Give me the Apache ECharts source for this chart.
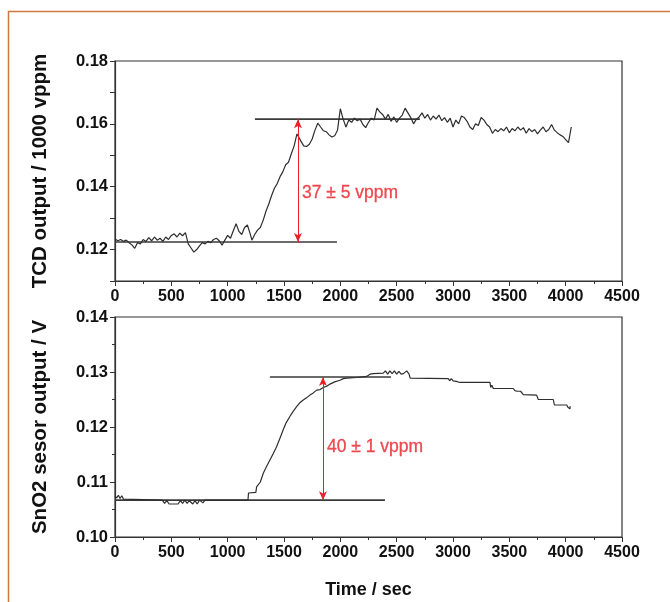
<!DOCTYPE html>
<html>
<head>
<meta charset="utf-8">
<script src="https://cdn.jsdelivr.net/npm/echarts@6/dist/echarts.min.js"></script>
<style>
html,body{margin:0;padding:0;background:#fff;}
#c{width:670px;height:602px;}
</style>
</head>
<body>
<div id="c"></div>
<script>
// ---- data (time in s) ----
var tcdData = [
[0,0.1234],[25,0.1228],[50,0.1232],[75,0.1226],[100,0.1230],[125,0.1222],[150,0.1215],[175,0.1204],
[200,0.1222],[225,0.1218],[250,0.1232],[275,0.1226],[300,0.1238],[325,0.1228],[350,0.1240],[375,0.1230],
[400,0.1236],[425,0.1226],[450,0.1240],[475,0.1232],[500,0.1245],[525,0.1250],[550,0.1240],[575,0.1252],
[600,0.1244],[625,0.1254],[650,0.1218],[675,0.1205],[700,0.1192],[725,0.1200],[750,0.1212],[775,0.1222],
[800,0.1218],[825,0.1226],[850,0.1222],[875,0.1232],[900,0.1236],[925,0.1228],[950,0.1214],[975,0.1230],
[1000,0.1245],[1025,0.1236],[1050,0.1260],[1075,0.1282],[1100,0.1258],[1125,0.1248],[1150,0.1270],[1175,0.1278],
[1200,0.1250],[1215,0.1230],[1240,0.1248],[1265,0.1262],[1290,0.1270],[1315,0.1293],[1340,0.1322],[1365,0.1345],
[1390,0.1372],[1415,0.1395],[1440,0.1410],[1465,0.1432],[1490,0.1448],[1515,0.1470],[1540,0.1478],[1565,0.1505],
[1590,0.1530],[1615,0.1568],[1630,0.1572],[1650,0.1545],[1675,0.1530],[1700,0.1528],[1725,0.1535],[1750,0.1552],
[1775,0.1580],[1800,0.1602],[1825,0.1590],[1850,0.1578],[1875,0.1575],[1900,0.1565],[1925,0.1558],[1950,0.1562],
[1975,0.1580],[2000,0.1648],[2025,0.1615],[2050,0.1590],[2075,0.1612],[2100,0.1605],[2125,0.1618],[2150,0.1610],
[2175,0.1615],[2200,0.1598],[2225,0.1588],[2250,0.1605],[2275,0.1618],[2300,0.1612],[2325,0.1650],[2350,0.1638],
[2375,0.1630],[2400,0.1615],[2425,0.1630],[2450,0.1608],[2475,0.1622],[2500,0.1605],[2525,0.1618],[2550,0.1628],
[2575,0.1650],[2600,0.1635],[2625,0.1620],[2650,0.1600],[2675,0.1615],[2700,0.1622],[2725,0.1635],[2750,0.1618],
[2775,0.1630],[2800,0.1612],[2825,0.1625],[2850,0.1615],[2875,0.1628],[2900,0.1610],[2925,0.1620],[2950,0.1605],
[2975,0.1618],[3000,0.1590],[3025,0.1612],[3050,0.1600],[3075,0.1625],[3100,0.1620],[3125,0.1608],[3150,0.1590],
[3175,0.1582],[3200,0.1600],[3225,0.1595],[3250,0.1620],[3275,0.1612],[3300,0.1598],[3325,0.1590],[3350,0.1570],
[3375,0.1582],[3400,0.1575],[3425,0.1585],[3450,0.1578],[3475,0.1590],[3500,0.1572],[3525,0.1585],[3550,0.1578],
[3575,0.1590],[3600,0.1580],[3625,0.1588],[3650,0.1570],[3675,0.1585],[3700,0.1575],[3725,0.1582],[3750,0.1568],
[3775,0.1580],[3800,0.1590],[3825,0.1575],[3850,0.1582],[3875,0.1598],[3900,0.1580],[3925,0.1572],[3950,0.1565],
[3975,0.1560],[4000,0.1550],[4025,0.1540],[4050,0.1590]
];
var snoData = [
[0,0.1075],[15,0.1071],[30,0.1076],[45,0.1070],[60,0.1075],[75,0.1069],[90,0.1067],[420,0.1067],
[440,0.1061],[460,0.1066],[480,0.1060],[560,0.1060],[580,0.1066],[600,0.1061],[620,0.1067],[640,0.1061],
[660,0.1066],[690,0.1060],[710,0.1066],[730,0.1060],[750,0.1067],[780,0.1062],[800,0.1067],[1180,0.1067],
[1185,0.1080],[1250,0.1081],[1257,0.1091],[1290,0.1100],[1316,0.1116],[1345,0.1128],[1375,0.1140],[1405,0.1152],
[1434,0.1164],[1465,0.1180],[1493,0.1195],[1520,0.1208],[1552,0.1219],[1580,0.1228],[1612,0.1237],[1640,0.1244],
[1671,0.1249],[1700,0.1253],[1730,0.1258],[1760,0.1262],[1790,0.1267],[1820,0.1268],[1849,0.1272],[1880,0.1274],
[1908,0.1278],[1950,0.1282],[1997,0.1285],[2026,0.1288],[2056,0.1289],[2150,0.1290],[2233,0.1292],[2263,0.1296],
[2292,0.1297],[2381,0.1298],[2400,0.1302],[2420,0.1296],[2440,0.1302],[2460,0.1297],[2480,0.1302],[2500,0.1296],
[2520,0.1301],[2540,0.1296],[2560,0.1297],[2589,0.1302],[2610,0.1296],[2620,0.1289],[2958,0.1288],[2970,0.1284],
[2985,0.1288],[3000,0.1284],[3015,0.1287],[3030,0.1283],[3062,0.1281],[3328,0.1281],[3335,0.1272],[3345,0.1276],
[3358,0.1270],[3535,0.1270],[3550,0.1266],[3560,0.1269],[3570,0.1265],[3580,0.1268],[3600,0.1265],[3624,0.1259],
[3742,0.1258],[3757,0.1250],[3890,0.1250],[3900,0.1240],[4010,0.1240],[4020,0.1236],[4038,0.1233],[4040,0.1238]
];
// reference lines
var tcdBase = [[0,0.1224],[1970,0.1224]];
var tcdTop = [[1242,0.1615],[2706,0.1615]];
var snoBase = [[0,0.1067],[2396,0.1067]];
var snoTop = [[1375,0.1291],[2450,0.1291]];
// arrows: [x, yFrom, yTo]
var tcdArrow = [1624, 0.1224, 0.1615];
var snoArrow = [1846, 0.1067, 0.1291];
// annotations
var tcdNote = {text:'37 ± 5 vppm', at:[1624, 0.1379]};
var snoNote = {text:'40 ± 1 vppm', at:[1846, 0.1164]};
// axis settings
var xTicks = {min:0, max:4500, interval:500};
var topY = {min:0.11, max:0.18, interval:0.01};
var botY = {min:0.10, max:0.14, interval:0.01};
var xTitle = 'Time / sec';
var topTitle = 'TCD output / 1000 vppm';
var botTitle = 'SnO2 sesor output / V';

var chart = echarts.init(document.getElementById('c'), null, {renderer:'canvas'});
var FONT = '"Liberation Sans", Arial, sans-serif';
var AX = '#333';
var RED = '#ea2027';

function xAxis(idx, name){
  return {
    type:'value', gridIndex:idx, min:xTicks.min, max:xTicks.max, interval:xTicks.interval,
    name:name, nameLocation:'middle', nameGap:44,
    nameTextStyle:{fontFamily:FONT, fontWeight:'bold', fontSize:18, color:'#111'},
    axisLine:{show:true, onZero:false, lineStyle:{color:AX, width:1.2}},
    axisTick:{show:true, inside:false, length:5, lineStyle:{color:AX}},
    minorTick:{show:true, splitNumber:2, length:3, lineStyle:{color:AX}},
    splitLine:{show:false},
    axisLabel:{fontFamily:FONT, fontWeight:'bold', fontSize:16, color:'#111', margin:8,
      formatter:function(v){return String(Math.round(v));}}
  };
}
function yAxis(idx, cfg, name, fmt){
  return {
    type:'value', gridIndex:idx, min:cfg.min, max:cfg.max, interval:cfg.interval,
    name:name, nameLocation:'middle', nameRotate:90, nameGap:64,
    nameTextStyle:{fontFamily:FONT, fontWeight:'bold', fontSize:20.5, color:'#111'},
    axisLine:{show:true, onZero:false, lineStyle:{color:AX, width:1.2}},
    axisTick:{show:true, inside:false, length:5, lineStyle:{color:AX}},
    minorTick:{show:idx===1, splitNumber:2, length:3, lineStyle:{color:AX}},
    splitLine:{show:false},
    axisLabel:{fontFamily:FONT, fontWeight:'bold', fontSize:16.5, color:'#111', margin:7, formatter:fmt}
  };
}
function refLine(idx, data){
  return {type:'line', xAxisIndex:idx, yAxisIndex:idx, data:data, symbol:'none', silent:true,
    lineStyle:{color:'#3a3a3a', width:1.6}, z:3};
}
function arrowSeries(idx, a){
  return {type:'line', xAxisIndex:idx, yAxisIndex:idx, data:[], silent:true,
    markLine:{silent:true, symbol:['arrow','arrow'], symbolSize:[6,9], animation:false,
      label:{show:false}, lineStyle:{color:RED, width:1, type:'solid'},
      data:[[{coord:[a[0],a[1]]},{coord:[a[0],a[2]]}]]}};
}
function noteSeries(idx, n){
  return {type:'scatter', xAxisIndex:idx, yAxisIndex:idx, data:[n.at], symbolSize:0, silent:true,
    label:{show:true, position:'right', distance:4, formatter:n.text,
      fontFamily:FONT, fontSize:17.5, color:RED, textBorderColor:RED, textBorderWidth:0.3}};
}

chart.setOption({
  animation:false,
  backgroundColor:'#fff',
  grid:[
    {left:115, top:61, width:507, height:220, show:true, borderColor:AX, borderWidth:1.2, backgroundColor:'transparent'},
    {left:115, top:317, width:507, height:220, show:true, borderColor:AX, borderWidth:1.2, backgroundColor:'transparent'}
  ],
  xAxis:[xAxis(0,''), xAxis(1,xTitle)],
  yAxis:[
    yAxis(0, topY, topTitle, function(v){var r=Math.round(v*100); return r%2===0 ? (r/100).toFixed(2) : '';}),
    yAxis(1, botY, botTitle, function(v){return v.toFixed(2);})
  ],
  graphic:[
    {type:'polyline', silent:true, shape:{points:[[8.5,610],[8.5,11.5],[680,11.5]]},
     style:{stroke:'#cf7a3c', lineWidth:1.5, fill:null}, z:100}
  ],
  series:[
    {type:'line', xAxisIndex:0, yAxisIndex:0, data:tcdData, symbol:'none', lineStyle:{color:'#2e2e2e', width:1.2}, z:4},
    {type:'line', xAxisIndex:1, yAxisIndex:1, data:snoData, symbol:'none', lineStyle:{color:'#2e2e2e', width:1.2}, z:4},
    refLine(0, tcdBase), refLine(0, tcdTop), refLine(1, snoBase), refLine(1, snoTop),
    arrowSeries(0, tcdArrow), arrowSeries(1, snoArrow),
    noteSeries(0, tcdNote), noteSeries(1, snoNote)
  ]
});
</script>
</body>
</html>
